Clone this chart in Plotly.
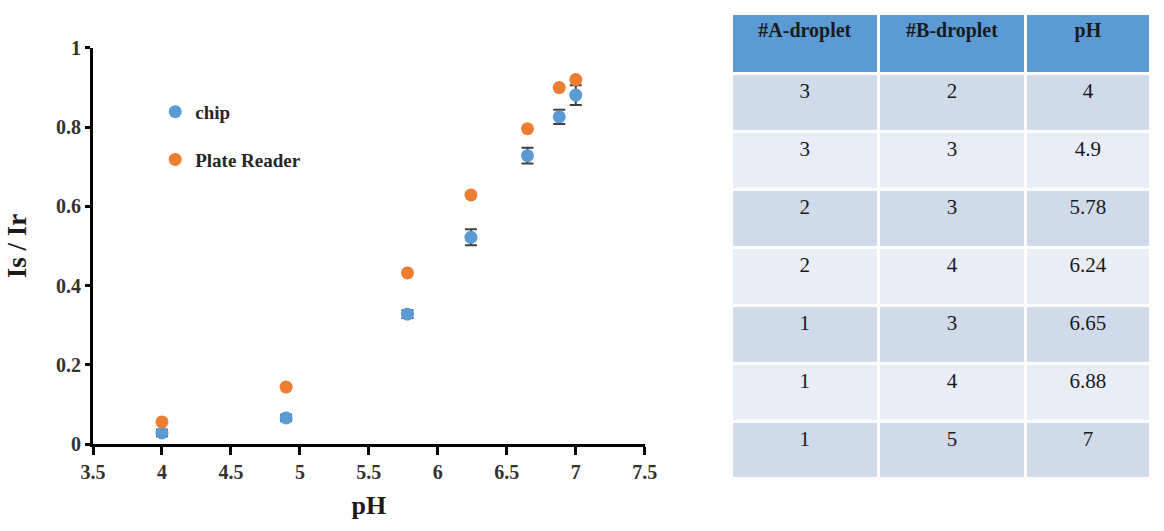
import plotly.graph_objects as go

ph = [4, 4.9, 5.78, 6.24, 6.65, 6.88, 7]
chip = [0.028, 0.066, 0.328, 0.522, 0.728, 0.826, 0.881]
chip_err = [0.008, 0.008, 0.010, 0.020, 0.020, 0.018, 0.025]
plate = [0.056, 0.144, 0.432, 0.629, 0.796, 0.900, 0.920]

col_a = ["3", "3", "2", "2", "1", "1", "1"]
col_b = ["2", "3", "3", "4", "3", "4", "5"]
col_ph = ["4", "4.9", "5.78", "6.24", "6.65", "6.88", "7"]
headers = ["#A-droplet", "#B-droplet", "pH"]

SERIF = "Liberation Serif, Times New Roman, serif"
BLUE = "#5b9bd5"
ORANGE = "#ed7d31"

fig = go.Figure()
fig.add_trace(go.Scatter(
    x=ph, y=chip, mode="markers", name="chip", legendgroup="a",
    marker=dict(color=BLUE, size=13),
    error_y=dict(type="data", array=chip_err, color="#404040", thickness=2, width=6),
))
fig.add_trace(go.Scatter(
    x=ph, y=plate, mode="markers", name="Plate Reader", legendgroup="b",
    marker=dict(color=ORANGE, size=13),
))

row_colors = ["#cfdaeb" if i % 2 == 0 else "#e9edf6" for i in range(len(col_a))]
fig.add_trace(go.Table(
    domain=dict(x=[0.6032, 1.0], y=[0.0291, 0.994]),
    columnwidth=[150, 150, 127],
    header=dict(
        values=headers, fill_color=BLUE, height=60, align="center",
        line=dict(color="white", width=3),
        font=dict(family=SERIF, size=20, color="#1a1a1a", weight="bold"),
    ),
    cells=dict(
        values=[col_a, col_b, col_ph], fill_color=[row_colors] * 3, height=58,
        align="center", line=dict(color="white", width=3),
        font=dict(family=SERIF, size=21, color="#1a1a1a"),
    ),
))

axis_common = dict(
    showline=True, linecolor="black", linewidth=3, showgrid=False, zeroline=False,
    ticks="outside", tickcolor="black", tickwidth=3,
    tickfont=dict(family=SERIF, size=20, color="#333333", weight="bold"),
)

fig.update_layout(
    width=1164, height=531,
    margin=dict(l=93, r=0, t=10, b=40),
    paper_bgcolor="white", plot_bgcolor="white",
    showlegend=True,
    legend=dict(
        x=0.0588, y=0.8295, xanchor="left", yanchor="top",
        font=dict(family=SERIF, size=19, color="#262626", weight="bold"),
        traceorder="grouped", tracegroupgap=20, bgcolor="rgba(0,0,0,0)",
        itemwidth=30,
    ),
    xaxis=dict(
        axis_common, domain=[0, 0.5215], range=[3.5, 7.5], dtick=0.5, tick0=3.5,
        ticklen=8,
        title=dict(text="pH", font=dict(family=SERIF, size=26, color="#1a1a1a", weight="bold"),
                   standoff=14),
    ),
    yaxis=dict(
        axis_common, domain=[0.0977, 0.9231], range=[0, 1], dtick=0.2, ticklen=5,
        title=dict(text="Is / Ir", font=dict(family=SERIF, size=27, color="#1a1a1a", weight="bold"),
                   standoff=22),
    ),
)

fig.write_html("out.html")
